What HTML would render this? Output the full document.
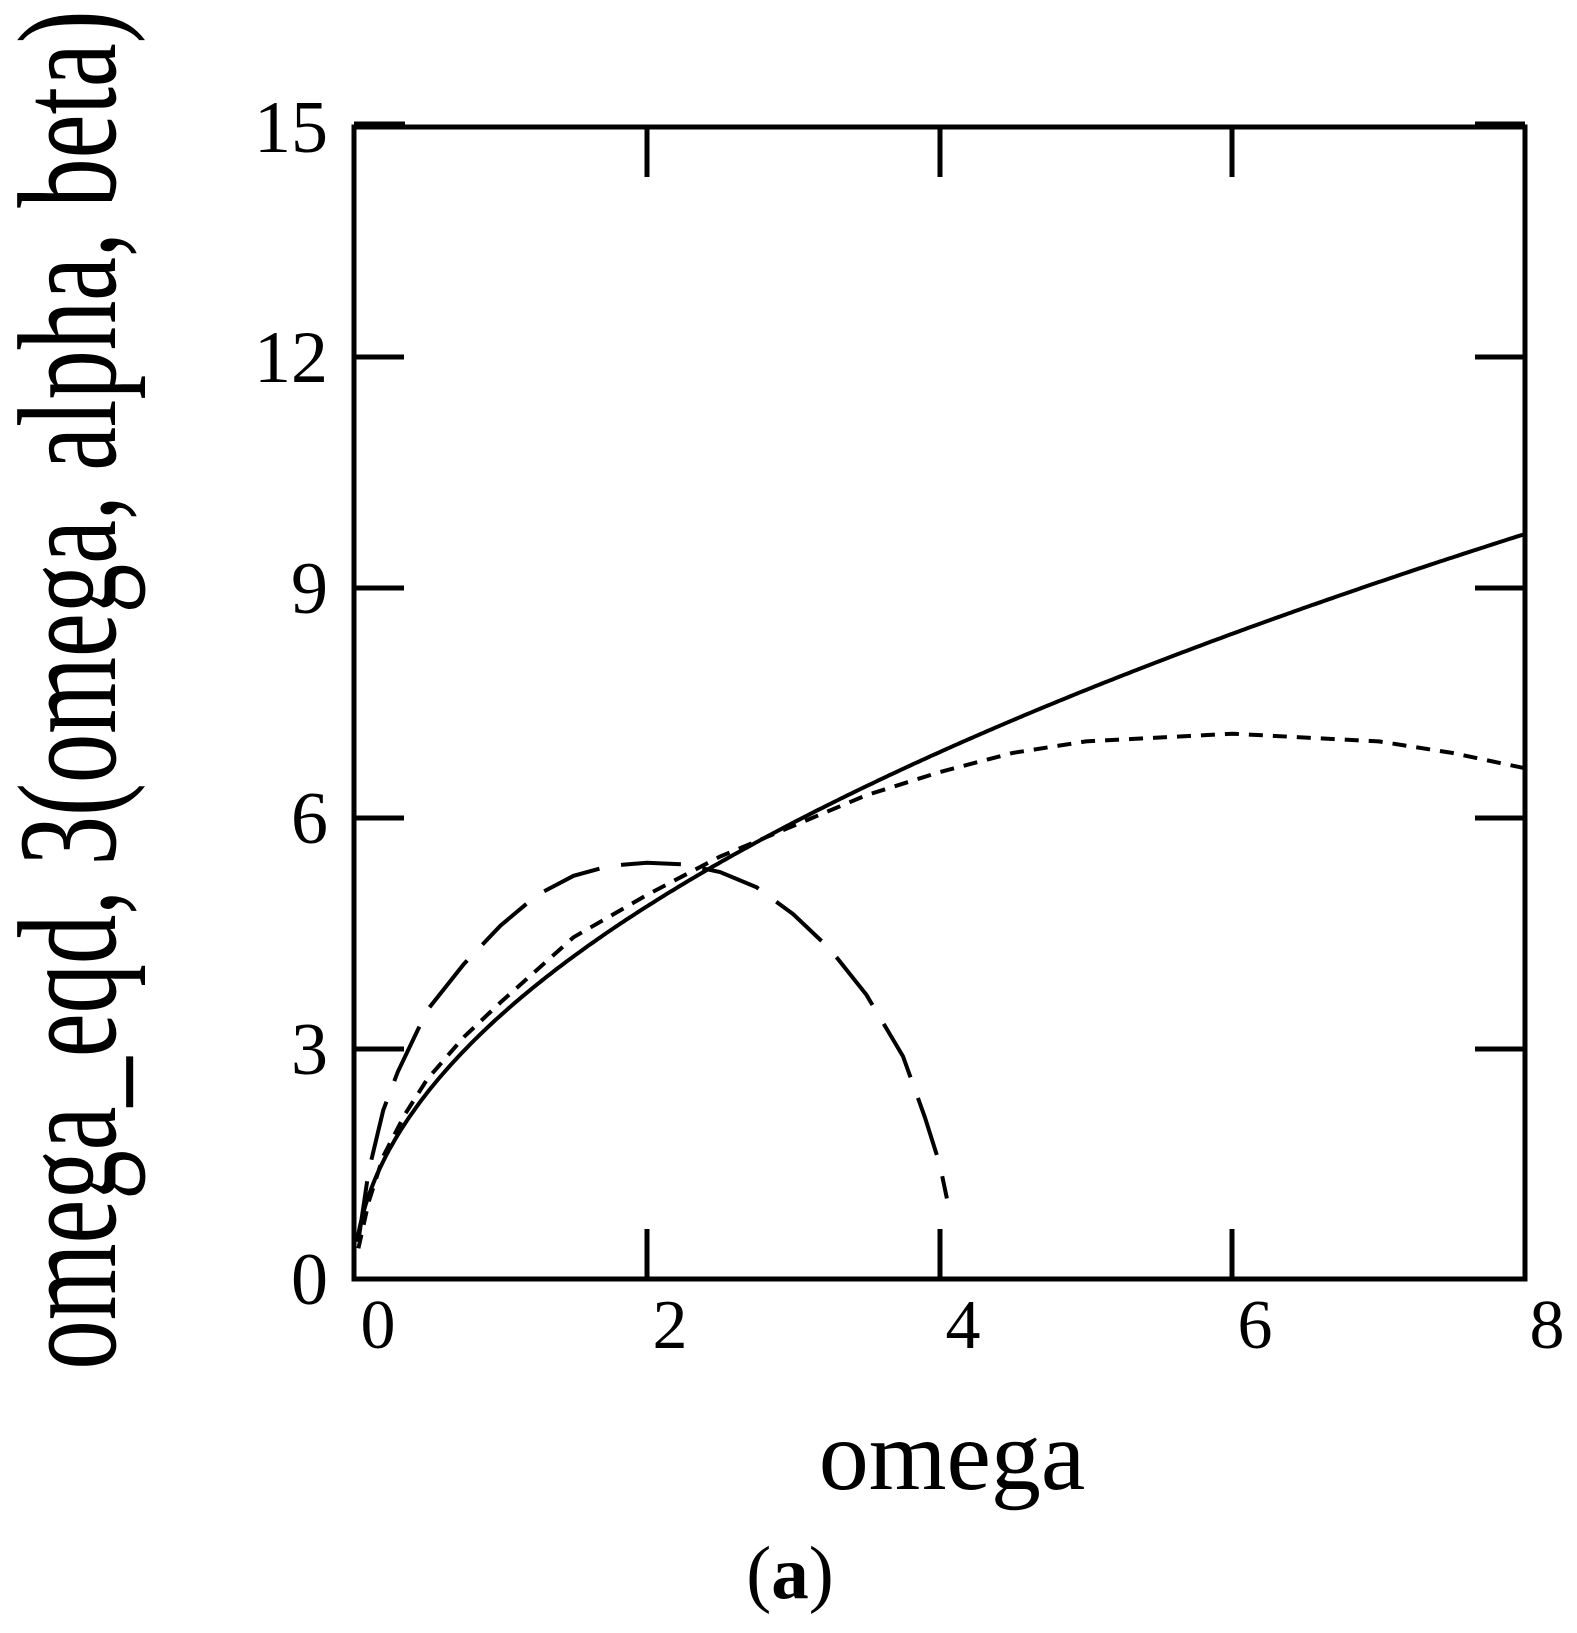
<!DOCTYPE html>
<html><head><meta charset="utf-8"><style>
html,body{margin:0;padding:0;background:#fff;}
svg{display:block;}
text{font-family:"Liberation Serif",serif;fill:#000;}
</style></head><body>
<svg width="1577" height="1633" viewBox="0 0 1577 1633" xmlns="http://www.w3.org/2000/svg">
<g stroke="#000" stroke-width="5" fill="none">
<rect x="354" y="127" width="1171" height="1152"/>
<line x1="354" y1="125" x2="405" y2="125" stroke-width="7"/>
<line x1="1475" y1="125" x2="1525" y2="125" stroke-width="7"/>
<line x1="647" y1="1279" x2="647" y2="1229"/><line x1="940" y1="1279" x2="940" y2="1229"/><line x1="1232" y1="1279" x2="1232" y2="1229"/>
<line x1="647" y1="127" x2="647" y2="177"/><line x1="940" y1="127" x2="940" y2="177"/><line x1="1232" y1="127" x2="1232" y2="177"/>
<line x1="354" y1="1049" x2="404" y2="1049"/><line x1="354" y1="818" x2="404" y2="818"/><line x1="354" y1="588" x2="404" y2="588"/><line x1="354" y1="357" x2="404" y2="357"/>
<line x1="1525" y1="1049" x2="1475" y2="1049"/><line x1="1525" y1="818" x2="1475" y2="818"/><line x1="1525" y1="588" x2="1475" y2="588"/><line x1="1525" y1="357" x2="1475" y2="357"/>
<path id="solid" stroke-width="4"/>
<path id="dotted" stroke-width="4" stroke-dasharray="14,10"/>
<path id="dashed" stroke-width="4" stroke-dasharray="60,22"/>
</g>
<g font-size="74" text-anchor="end">
<text x="328" y="152">15</text><text x="328" y="382">12</text><text x="328" y="613">9</text><text x="328" y="843">6</text><text x="328" y="1074">3</text><text x="328" y="1304">0</text>
</g>
<g font-size="70" text-anchor="middle">
<text x="378" y="1348">0</text><text x="670" y="1348">2</text><text x="963" y="1348">4</text><text x="1255" y="1348">6</text><text x="1547" y="1348">8</text>
</g>
<text x="952" y="1489" font-size="100" text-anchor="middle">omega</text>
<text x="790" y="1598" font-size="75" text-anchor="middle">(<tspan font-weight="bold">a</tspan>)</text>
<text transform="translate(115,690) rotate(-90) scale(0.70,1)" font-size="141" text-anchor="middle">omega_eqd, 3(omega, alpha, beta)</text>
<script>
function X(w){return 354+146.4*w;}function Y(v){return 1279-76.8*v;}
function path(pts){return pts.map(function(p,i){return (i?'L':'M')+X(p[0]).toFixed(1)+' '+Y(p[1]).toFixed(1);}).join(' ');}
var s=[];for(var w=0.02;w<=8.0001;w+=0.02)s.push([w,3.43*Math.sqrt(w)]);
document.getElementById('solid').setAttribute('d',path(s));
document.getElementById('dotted').setAttribute('d',path([[0.03,0.4],[0.1,1.0],[0.2,1.6],[0.35,2.15],[0.5,2.6],[0.75,3.15],[1,3.6],[1.5,4.45],[2,5.0],[2.5,5.5],[3,5.9],[3.5,6.3],[4,6.6],[4.5,6.85],[5,7.0],[6,7.1],[7,7.0],[7.5,6.85],[8,6.65]]));
document.getElementById('dashed').setAttribute('d',path([[0.03,0.5],[0.1,1.4],[0.2,2.2],[0.3,2.7],[0.5,3.5],[0.75,4.1],[1,4.6],[1.25,5.0],[1.5,5.25],[1.75,5.38],[2,5.42],[2.25,5.4],[2.5,5.3],[2.75,5.1],[3,4.75],[3.25,4.3],[3.5,3.7],[3.75,2.9],[3.9,2.1],[4.0,1.5],[4.05,1.05]]));
</script>
</svg>
</body></html>
